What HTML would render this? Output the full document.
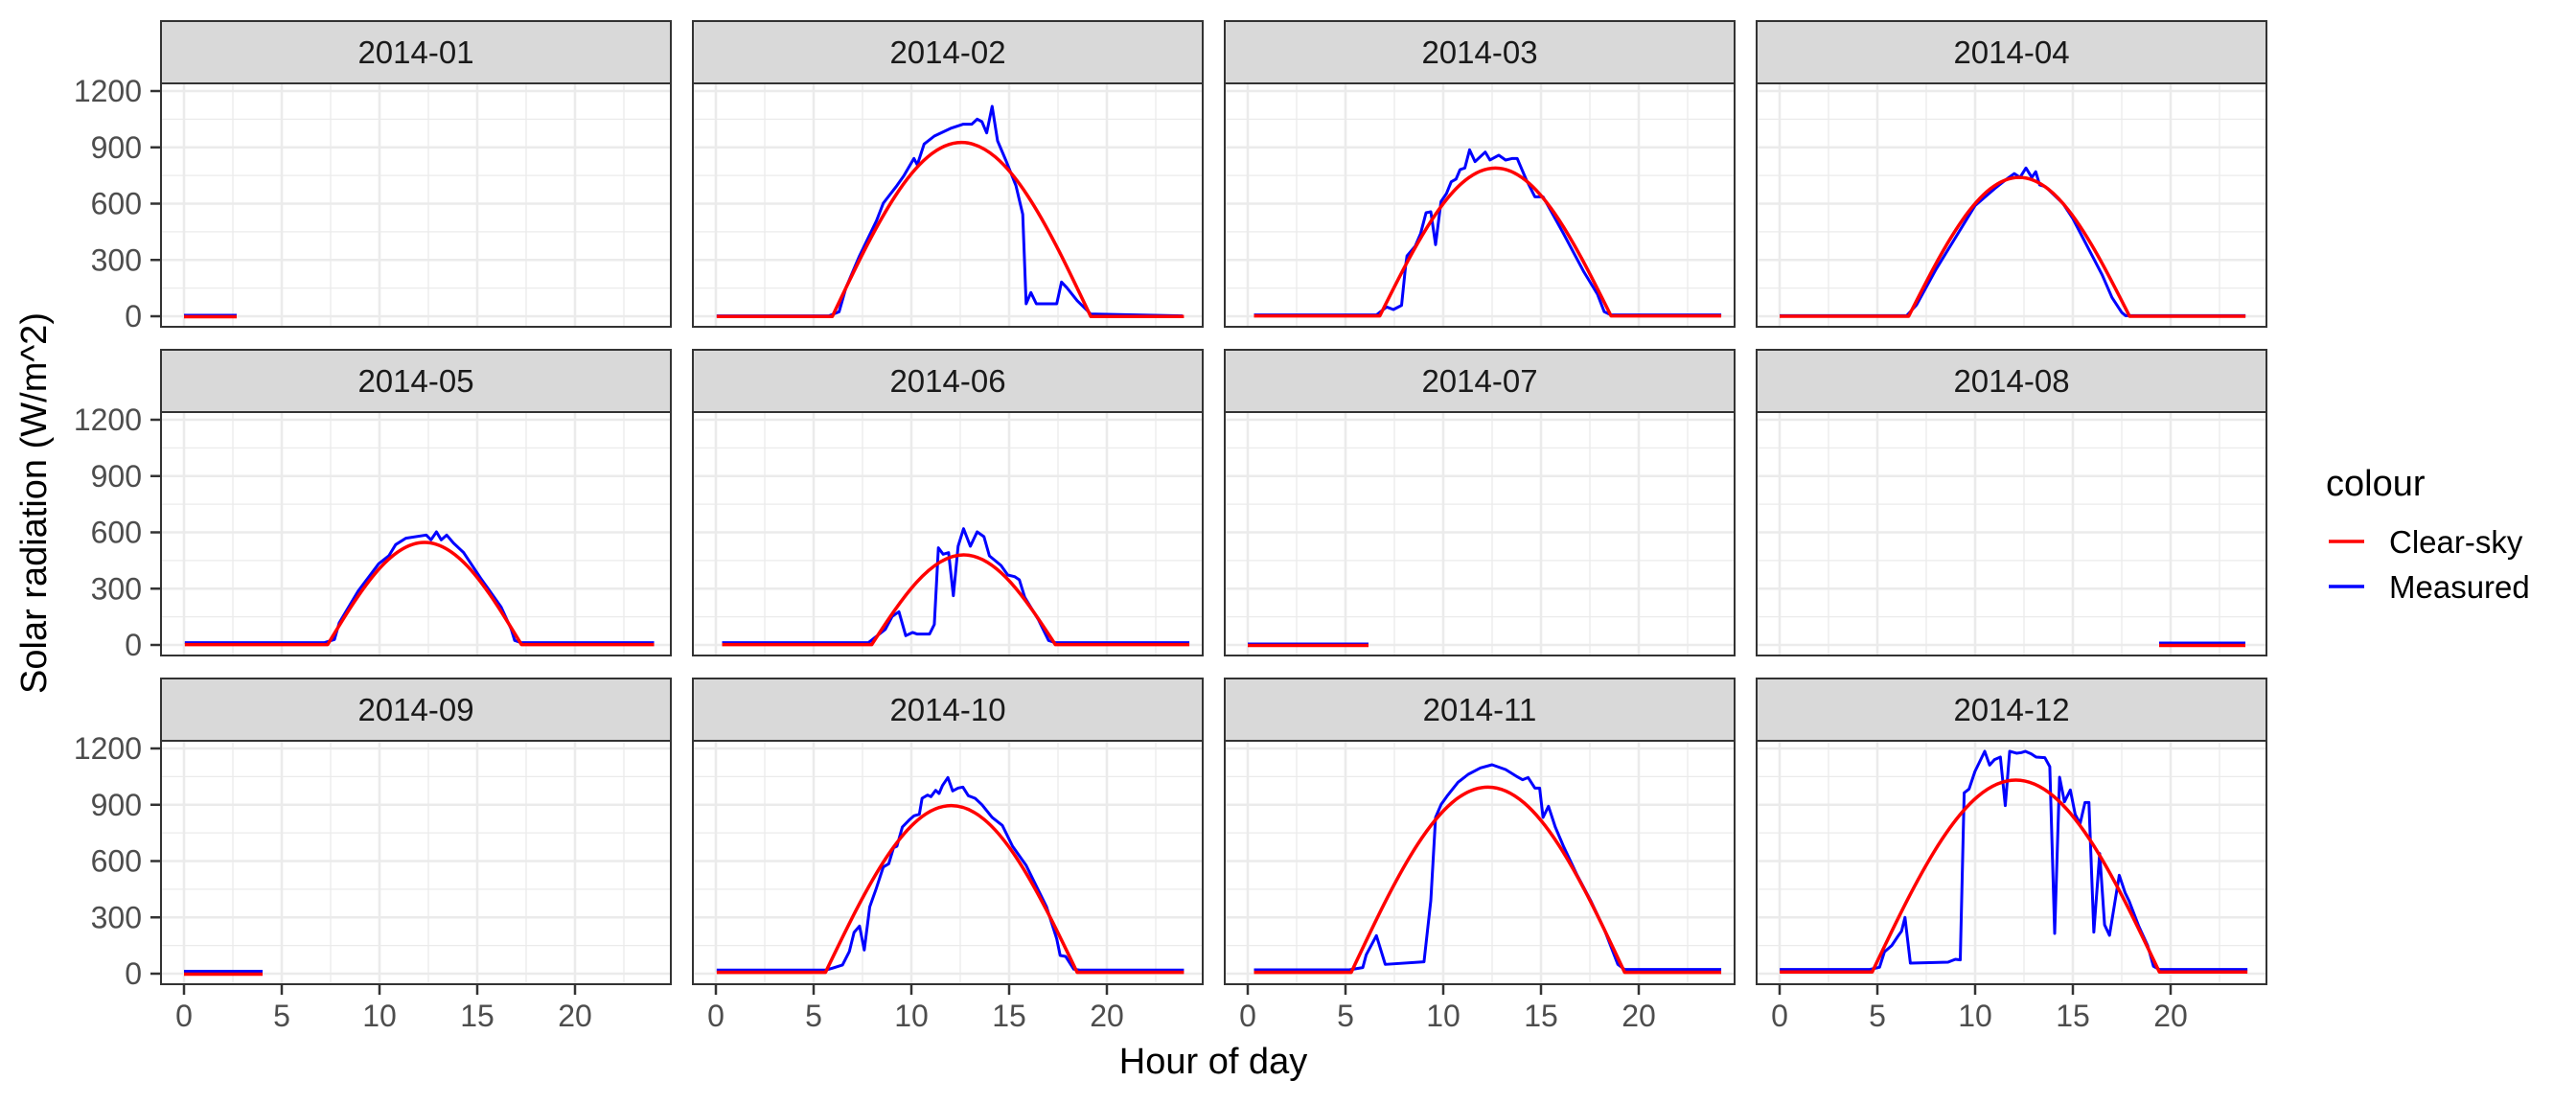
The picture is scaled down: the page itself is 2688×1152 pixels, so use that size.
<!DOCTYPE html>
<html><head><meta charset="utf-8"><style>
html,body{margin:0;padding:0;background:#fff;}
svg{display:block;font-family:"Liberation Sans",sans-serif;}
</style></head><body>
<svg width="2688" height="1152" viewBox="0 0 2688 1152" xmlns="http://www.w3.org/2000/svg">
<defs>
<g id="grid">
<rect x="-24" y="-243" width="532" height="254" fill="#fff"/>
<g stroke="#EBEBEB" stroke-width="1.3">
<line x1="51" y1="-243" x2="51" y2="11"/><line x1="153" y1="-243" x2="153" y2="11"/><line x1="255" y1="-243" x2="255" y2="11"/><line x1="357" y1="-243" x2="357" y2="11"/><line x1="459" y1="-243" x2="459" y2="11"/>
<line x1="-24" y1="-29.4" x2="508" y2="-29.4"/><line x1="-24" y1="-88.1" x2="508" y2="-88.1"/><line x1="-24" y1="-146.9" x2="508" y2="-146.9"/><line x1="-24" y1="-205.6" x2="508" y2="-205.6"/>
</g>
<g stroke="#EBEBEB" stroke-width="2.6">
<line x1="0" y1="-243" x2="0" y2="11"/><line x1="102" y1="-243" x2="102" y2="11"/><line x1="204" y1="-243" x2="204" y2="11"/><line x1="306" y1="-243" x2="306" y2="11"/><line x1="408" y1="-243" x2="408" y2="11"/>
<line x1="-24" y1="0" x2="508" y2="0"/><line x1="-24" y1="-58.75" x2="508" y2="-58.75"/><line x1="-24" y1="-117.5" x2="508" y2="-117.5"/><line x1="-24" y1="-176.25" x2="508" y2="-176.25"/><line x1="-24" y1="-235" x2="508" y2="-235"/>
</g>
</g>
<g id="frame">
<rect x="-24" y="-243" width="532" height="254" fill="none" stroke="#333" stroke-width="2"/>
<rect x="-24" y="-308" width="532" height="65" fill="#D9D9D9" stroke="#333" stroke-width="2"/>
</g>
</defs>

<!-- panels grid -->
<g transform="translate(192,330)"><use href="#grid"/></g>
<g transform="translate(747,330)"><use href="#grid"/></g>
<g transform="translate(1302,330)"><use href="#grid"/></g>
<g transform="translate(1857,330)"><use href="#grid"/></g>
<g transform="translate(192,673)"><use href="#grid"/></g>
<g transform="translate(747,673)"><use href="#grid"/></g>
<g transform="translate(1302,673)"><use href="#grid"/></g>
<g transform="translate(1857,673)"><use href="#grid"/></g>
<g transform="translate(192,1016)"><use href="#grid"/></g>
<g transform="translate(747,1016)"><use href="#grid"/></g>
<g transform="translate(1302,1016)"><use href="#grid"/></g>
<g transform="translate(1857,1016)"><use href="#grid"/></g>

<!-- data -->
<g fill="none" stroke-linejoin="round">
<!-- flat ones -->
<line x1="192" y1="329" x2="247" y2="329" stroke="#0000FF" stroke-width="3"/>
<line x1="192" y1="330.5" x2="247" y2="330.5" stroke="#FF0000" stroke-width="3.5"/>
<line x1="1302" y1="672" x2="1428" y2="672" stroke="#0000FF" stroke-width="3"/>
<line x1="1302" y1="673.5" x2="1428" y2="673.5" stroke="#FF0000" stroke-width="3.5"/>
<line x1="2253" y1="671" x2="2343" y2="671" stroke="#0000FF" stroke-width="3"/>
<line x1="2253" y1="673.5" x2="2343" y2="673.5" stroke="#FF0000" stroke-width="3.5"/>
<line x1="192" y1="1013.5" x2="274" y2="1013.5" stroke="#0000FF" stroke-width="3"/>
<line x1="192" y1="1016.5" x2="274" y2="1016.5" stroke="#FF0000" stroke-width="3.5"/>

<!-- Feb & Mar -->
<g transform="translate(723,87) scale(0.7097,0.3333)">
<polyline vector-effect="non-scaling-stroke" stroke="#0000FF" stroke-width="3" points="35,728 200,728 215,715 225,640 245,540 270,430 280,375 300,320 310,290 325,235 330,255 340,190 355,165 380,140 397,128 410,128 418,112 425,120 432,155 440,72 448,180 460,240 475,320 485,410 490,690 497,655 505,690 535,690 542,622 550,640 565,680 585,722 720,728"/>
<path vector-effect="non-scaling-stroke" stroke="#FF0000" stroke-width="3.5" d="M35,730 L205,730 C267,451 326.2,185 395,185 C463.8,185 523,451 585,730 L722,730"/>
<polyline vector-effect="non-scaling-stroke" stroke="#0000FF" stroke-width="3" points="825,725 1005,725 1020,700 1030,708 1042,695 1048,570 1050,540 1062,510 1070,470 1078,405 1085,402 1092,505 1100,370 1108,345 1115,308 1122,300 1128,270 1135,265 1142,208 1150,245 1165,215 1172,240 1185,225 1195,240 1205,235 1212,235 1225,300 1238,355 1250,355 1280,470 1310,590 1330,660 1340,715 1350,725 1512,725"/>
<path vector-effect="non-scaling-stroke" stroke="#FF0000" stroke-width="3.5" d="M825,728 L1010,728 C1065.4,491 1118.5,265 1180,265 C1241.5,265 1294.6,491 1350,728 L1512,728"/>
</g>
<!-- Apr -->
<g transform="translate(1857,330) scale(20.4,-0.19583)">
<polyline vector-effect="non-scaling-stroke" stroke="#0000FF" stroke-width="3" points="0,3 6.5,3 7,60 8,250 9,420 10,590 11,680 11.6,730 12,760 12.3,740 12.6,790 12.9,740 13.1,770 13.3,700 13.6,690 14,650 14.5,600 15,520 15.5,420 16,320 16.5,220 17,100 17.5,20 17.7,3 23.83,3"/>
<path vector-effect="non-scaling-stroke" stroke="#FF0000" stroke-width="3.5" d="M0,0 L6.6,0 C8.44,379 10.2,740 12.25,740 C14.3,740 16.06,379 17.9,0 L23.83,0"/>
</g>
<!-- May & Jun -->
<g transform="translate(168,430) scale(0.7097,0.3333)">
<polyline vector-effect="non-scaling-stroke" stroke="#0000FF" stroke-width="3" points="35,722 240,722 255,712 262,660 290,560 320,475 335,450 345,415 360,395 390,385 397,400 405,375 412,400 420,385 430,410 440,430 445,440 470,520 500,610 515,680 520,715 530,722 725,722"/>
<path vector-effect="non-scaling-stroke" stroke="#FF0000" stroke-width="3.5" d="M35,728 L245,728 C291.5,564 335.9,408 387.5,408 C439.1,408 483.5,564 530,728 L725,728"/>
<polyline vector-effect="non-scaling-stroke" stroke="#0000FF" stroke-width="3" points="825,722 1040,722 1065,680 1075,640 1085,625 1095,700 1105,690 1112,695 1130,695 1137,665 1143,425 1150,445 1158,440 1165,575 1172,420 1180,365 1190,420 1200,375 1210,390 1218,450 1235,480 1245,510 1255,515 1262,525 1270,580 1290,650 1305,715 1315,722 1512,722"/>
<path vector-effect="non-scaling-stroke" stroke="#FF0000" stroke-width="3.5" d="M825,728 L1045,728 C1089,584 1131.1,447 1180,447 C1228.9,447 1271,584 1315,728 L1512,728"/>
</g>
<!-- Oct & Nov -->
<g transform="translate(723,773) scale(0.7097,0.3333)">
<polyline vector-effect="non-scaling-stroke" stroke="#0000FF" stroke-width="3" points="35,718 195,718 205,712 220,702 230,660 237,600 245,580 252,655 260,520 270,460 280,395 288,385 295,335 300,330 308,270 318,248 325,235 333,230 337,180 345,170 350,175 357,155 362,165 367,140 375,115 382,157 390,148 397,145 405,172 415,180 425,200 440,240 455,265 470,330 490,390 505,455 520,520 535,620 540,672 548,675 560,715 570,718 722,718"/>
<path vector-effect="non-scaling-stroke" stroke="#FF0000" stroke-width="3.5" d="M35,725 L195,725 C255.3,457.6 313,203 380,203 C447,203 504.7,457.6 565,725 L722,725"/>
<polyline vector-effect="non-scaling-stroke" stroke="#0000FF" stroke-width="3" points="825,717 965,717 985,710 990,670 1005,610 1018,700 1075,692 1085,500 1092,240 1100,200 1110,170 1125,130 1140,105 1158,85 1175,75 1195,90 1210,110 1220,122 1228,115 1238,148 1245,148 1250,240 1258,205 1268,270 1280,330 1300,420 1320,500 1340,590 1360,700 1370,716 1512,716"/>
<path vector-effect="non-scaling-stroke" stroke="#FF0000" stroke-width="3.5" d="M825,725 L968,725 C1033.5,428 1096.2,145 1169,145 C1241.8,145 1304.5,428 1370,725 L1512,725"/>
</g>
<!-- Dec -->
<g transform="translate(1900,700) scale(0.5105,0.3333)">
<polyline vector-effect="non-scaling-stroke" stroke="#0000FF" stroke-width="3" points="-84,935 100,935 120,928 130,880 145,860 158,830 165,815 172,772 183,915 260,912 275,903 285,905 293,382 303,370 315,315 335,252 345,295 355,278 367,270 377,422 386,252 400,258 410,256 418,252 430,260 440,270 458,272 468,300 478,822 488,333 498,410 510,373 520,450 530,478 540,412 548,412 558,818 570,572 580,795 590,828 610,640 622,695 630,720 650,800 668,860 680,925 692,935 872,935"/>
<path vector-effect="non-scaling-stroke" stroke="#FF0000" stroke-width="3.5" d="M-84,943 L105,943 C200.7,635 292.3,342 398.5,342 C504.7,342 596.3,635 692,943 L872,943"/>
</g>
</g>

<!-- frames & strips -->
<g transform="translate(192,330)"><use href="#frame"/><text x="242" y="-264" font-size="33" fill="#1A1A1A" text-anchor="middle">2014-01</text></g>
<g transform="translate(747,330)"><use href="#frame"/><text x="242" y="-264" font-size="33" fill="#1A1A1A" text-anchor="middle">2014-02</text></g>
<g transform="translate(1302,330)"><use href="#frame"/><text x="242" y="-264" font-size="33" fill="#1A1A1A" text-anchor="middle">2014-03</text></g>
<g transform="translate(1857,330)"><use href="#frame"/><text x="242" y="-264" font-size="33" fill="#1A1A1A" text-anchor="middle">2014-04</text></g>
<g transform="translate(192,673)"><use href="#frame"/><text x="242" y="-264" font-size="33" fill="#1A1A1A" text-anchor="middle">2014-05</text></g>
<g transform="translate(747,673)"><use href="#frame"/><text x="242" y="-264" font-size="33" fill="#1A1A1A" text-anchor="middle">2014-06</text></g>
<g transform="translate(1302,673)"><use href="#frame"/><text x="242" y="-264" font-size="33" fill="#1A1A1A" text-anchor="middle">2014-07</text></g>
<g transform="translate(1857,673)"><use href="#frame"/><text x="242" y="-264" font-size="33" fill="#1A1A1A" text-anchor="middle">2014-08</text></g>
<g transform="translate(192,1016)"><use href="#frame"/><text x="242" y="-264" font-size="33" fill="#1A1A1A" text-anchor="middle">2014-09</text></g>
<g transform="translate(747,1016)"><use href="#frame"/><text x="242" y="-264" font-size="33" fill="#1A1A1A" text-anchor="middle">2014-10</text></g>
<g transform="translate(1302,1016)"><use href="#frame"/><text x="242" y="-264" font-size="33" fill="#1A1A1A" text-anchor="middle">2014-11</text></g>
<g transform="translate(1857,1016)"><use href="#frame"/><text x="242" y="-264" font-size="33" fill="#1A1A1A" text-anchor="middle">2014-12</text></g>

<!-- y axes -->
<g font-size="32" fill="#4D4D4D" text-anchor="end">
<g transform="translate(0,330)">
<text x="148" y="11">0</text><text x="148" y="-47.75">300</text><text x="148" y="-106.5">600</text><text x="148" y="-165.25">900</text><text x="148" y="-224">1200</text>
<g stroke="#333" stroke-width="2.5"><line x1="157" y1="0" x2="168" y2="0"/><line x1="157" y1="-58.75" x2="168" y2="-58.75"/><line x1="157" y1="-117.5" x2="168" y2="-117.5"/><line x1="157" y1="-176.25" x2="168" y2="-176.25"/><line x1="157" y1="-235" x2="168" y2="-235"/></g>
</g>
<g transform="translate(0,673)">
<text x="148" y="11">0</text><text x="148" y="-47.75">300</text><text x="148" y="-106.5">600</text><text x="148" y="-165.25">900</text><text x="148" y="-224">1200</text>
<g stroke="#333" stroke-width="2.5"><line x1="157" y1="0" x2="168" y2="0"/><line x1="157" y1="-58.75" x2="168" y2="-58.75"/><line x1="157" y1="-117.5" x2="168" y2="-117.5"/><line x1="157" y1="-176.25" x2="168" y2="-176.25"/><line x1="157" y1="-235" x2="168" y2="-235"/></g>
</g>
<g transform="translate(0,1016)">
<text x="148" y="11">0</text><text x="148" y="-47.75">300</text><text x="148" y="-106.5">600</text><text x="148" y="-165.25">900</text><text x="148" y="-224">1200</text>
<g stroke="#333" stroke-width="2.5"><line x1="157" y1="0" x2="168" y2="0"/><line x1="157" y1="-58.75" x2="168" y2="-58.75"/><line x1="157" y1="-117.5" x2="168" y2="-117.5"/><line x1="157" y1="-176.25" x2="168" y2="-176.25"/><line x1="157" y1="-235" x2="168" y2="-235"/></g>
</g>
</g>

<!-- x axes -->
<g font-size="32" fill="#4D4D4D" text-anchor="middle">
<g transform="translate(192,0)"><text x="0" y="1071">0</text><text x="102" y="1071">5</text><text x="204" y="1071">10</text><text x="306" y="1071">15</text><text x="408" y="1071">20</text>
<g stroke="#333" stroke-width="2.5"><line x1="0" y1="1027" x2="0" y2="1038"/><line x1="102" y1="1027" x2="102" y2="1038"/><line x1="204" y1="1027" x2="204" y2="1038"/><line x1="306" y1="1027" x2="306" y2="1038"/><line x1="408" y1="1027" x2="408" y2="1038"/></g></g>
<g transform="translate(747,0)"><text x="0" y="1071">0</text><text x="102" y="1071">5</text><text x="204" y="1071">10</text><text x="306" y="1071">15</text><text x="408" y="1071">20</text>
<g stroke="#333" stroke-width="2.5"><line x1="0" y1="1027" x2="0" y2="1038"/><line x1="102" y1="1027" x2="102" y2="1038"/><line x1="204" y1="1027" x2="204" y2="1038"/><line x1="306" y1="1027" x2="306" y2="1038"/><line x1="408" y1="1027" x2="408" y2="1038"/></g></g>
<g transform="translate(1302,0)"><text x="0" y="1071">0</text><text x="102" y="1071">5</text><text x="204" y="1071">10</text><text x="306" y="1071">15</text><text x="408" y="1071">20</text>
<g stroke="#333" stroke-width="2.5"><line x1="0" y1="1027" x2="0" y2="1038"/><line x1="102" y1="1027" x2="102" y2="1038"/><line x1="204" y1="1027" x2="204" y2="1038"/><line x1="306" y1="1027" x2="306" y2="1038"/><line x1="408" y1="1027" x2="408" y2="1038"/></g></g>
<g transform="translate(1857,0)"><text x="0" y="1071">0</text><text x="102" y="1071">5</text><text x="204" y="1071">10</text><text x="306" y="1071">15</text><text x="408" y="1071">20</text>
<g stroke="#333" stroke-width="2.5"><line x1="0" y1="1027" x2="0" y2="1038"/><line x1="102" y1="1027" x2="102" y2="1038"/><line x1="204" y1="1027" x2="204" y2="1038"/><line x1="306" y1="1027" x2="306" y2="1038"/><line x1="408" y1="1027" x2="408" y2="1038"/></g></g>
</g>

<!-- titles -->
<text x="1266" y="1120" font-size="38" fill="#000" text-anchor="middle">Hour of day</text>
<text transform="translate(48,525) rotate(-90)" font-size="38" fill="#000" text-anchor="middle">Solar radiation (W/m^2)</text>

<!-- legend -->
<text x="2427" y="517" font-size="38" fill="#000">colour</text>
<line x1="2430" y1="565" x2="2467" y2="565" stroke="#FF0000" stroke-width="3.5"/>
<line x1="2430" y1="612" x2="2467" y2="612" stroke="#0000FF" stroke-width="3.5"/>
<text x="2493" y="577" font-size="33" fill="#000">Clear-sky</text>
<text x="2493" y="624" font-size="33" fill="#000">Measured</text>
</svg>
</body></html>
